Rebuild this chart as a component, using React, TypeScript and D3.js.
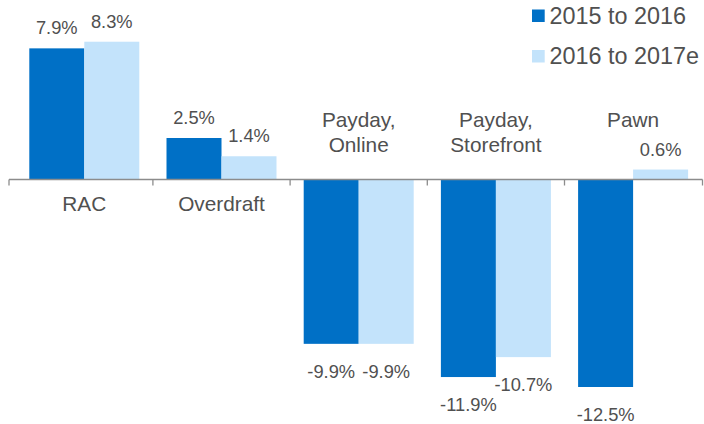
import React from "react";
import * as d3 from "d3";

const categories = ["RAC", "Overdraft", "Payday, Online", "Payday, Storefront", "Pawn"];
const categoryLines = [["RAC"], ["Overdraft"], ["Payday,", "Online"], ["Payday,", "Storefront"], ["Pawn"]];
const seriesNames = ["2015 to 2016", "2016 to 2017e"];
const series2015to2016 = [7.9, 2.5, -9.9, -11.9, -12.5];
const series2016to2017e = [8.3, 1.4, -9.9, -10.7, 0.6];
const seriesColors = ["#0070C6", "#C3E3FB"];

const W = 704;
const H = 424;
const TEXT = "#505050";
const FONT = "'Liberation Sans', Arial, sans-serif";

export default function App() {
  const values = [series2015to2016, series2016to2017e];
  const x0 = d3.scaleBand<string>().domain(categories).range([15.7, 701.7]).paddingInner(0).paddingOuter(0);
  const bw = x0.bandwidth();
  const barW = 55;
  const pad = (bw - barW * 2) / 2;
  const x1 = d3.scaleBand<string>().domain(seriesNames).range([pad, bw - pad]);
  const zeroY = 179.5;
  const pxPerUnit = 16.6;
  const y = d3.scaleLinear().domain([-14, 10]).range([zeroY + 14 * pxPerUnit, zeroY - 10 * pxPerUnit]);

  const axisLeft = 9;
  const axisRight = 702.5;
  const ticks = [axisLeft]
    .concat(categories.slice(1).map((c) => x0(c) as number))
    .concat([axisRight]);

  return (
    <svg width={W} height={H} style={{ position: "absolute", left: 0, top: 0, background: "#fff" }} fontFamily={FONT}>
      {/* bars */}
      {categories.map((c, i) => (
        <g key={c} transform={`translate(${x0(c)},0)`}>
          {seriesNames.map((s, j) => {
            const v = values[j][i];
            const top = y(Math.max(0, v));
            const bot = y(Math.min(0, v));
            return (
              <rect key={s} x={x1(s)} y={top} width={x1.bandwidth()} height={bot - top} fill={seriesColors[j]} />
            );
          })}
        </g>
      ))}
      {/* axis */}
      <line x1={axisLeft} x2={axisRight} y1={y(0)} y2={y(0)} stroke="#8C8C8C" strokeWidth={1.3} />
      {ticks.map((t, i) => (
        <line key={i} x1={t} x2={t} y1={y(0)} y2={y(0) + 6} stroke="#8C8C8C" strokeWidth={1.3} />
      ))}
      {/* value labels */}
      {categories.map((c, i) =>
        seriesNames.map((s, j) => {
          const v = values[j][i];
          const cx = (x0(c) as number) + (x1(s) as number) + x1.bandwidth() / 2;
          const ty = v >= 0 ? y(v) - 14 : y(v) + 34;
          return (
            <text key={c + s} x={cx} y={ty} textAnchor="middle" fontSize={18.3} fill={TEXT}>
              {v.toFixed(1) + "%"}
            </text>
          );
        })
      )}
      {/* category labels */}
      {categories.map((c, i) => {
        const cx = (x0(c) as number) + bw / 2;
        const lines = categoryLines[i];
        const below = series2015to2016[i] >= 0;
        const anyPos = series2016to2017e[i] > 0 || series2015to2016[i] > 0;
        const lineH = 25;
        let firstBase: number;
        if (below) firstBase = y(0) + 31.5;
        else {
          const lastBase = anyPos ? y(0) - 53 : y(0) - 28;
          firstBase = lastBase - (lines.length - 1) * lineH;
        }
        return (
          <text key={c} textAnchor="middle" fontSize={20.8} fill={TEXT}>
            {lines.map((l, k) => (
              <tspan key={k} x={cx} y={firstBase + k * lineH}>
                {l}
              </tspan>
            ))}
          </text>
        );
      })}
      {/* legend */}
      {seriesNames.map((s, j) => (
        <g key={s} transform={`translate(532,${9.5 + j * 40.5})`}>
          <rect x={0} y={0} width={12.7} height={12.5} fill={seriesColors[j]} />
          <text x={17.5} y={14} fontSize={23.4} fill={TEXT}>
            {s}
          </text>
        </g>
      ))}
    </svg>
  );
}
